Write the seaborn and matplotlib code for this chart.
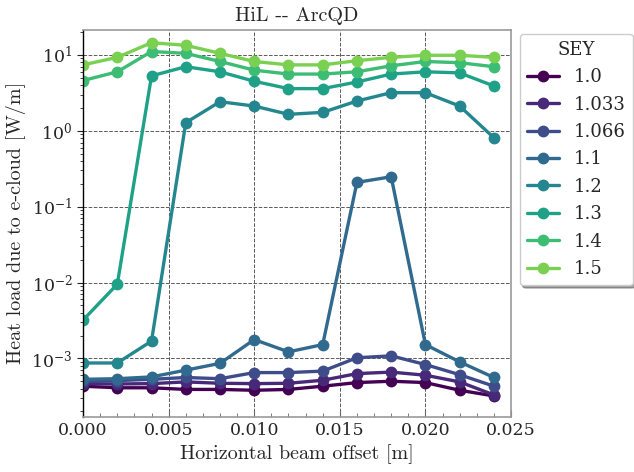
import numpy as np
import pandas as pd
import matplotlib
matplotlib.use("Agg")
import matplotlib.pyplot as plt
import seaborn as sns
from matplotlib.ticker import MultipleLocator

offsets = [0.000, 0.002, 0.004, 0.006, 0.008, 0.010, 0.012, 0.014, 0.016, 0.018, 0.020, 0.022, 0.024]
sey_labels = ["1.0", "1.033", "1.066", "1.1", "1.2", "1.3", "1.4", "1.5"]

hl_1_0 = [4.3e-4, 4.1e-4, 4.1e-4, 3.9e-4, 3.9e-4, 3.8e-4, 3.9e-4, 4.3e-4, 4.8e-4, 5.0e-4, 4.8e-4, 3.8e-4, 3.2e-4]
hl_1_033 = [4.65e-4, 4.6e-4, 4.65e-4, 4.9e-4, 4.7e-4, 4.65e-4, 4.7e-4, 5.15e-4, 6.3e-4, 6.6e-4, 6.0e-4, 4.9e-4, 3.3e-4]
hl_1_066 = [5.0e-4, 5.1e-4, 5.3e-4, 5.6e-4, 5.4e-4, 6.5e-4, 6.5e-4, 6.8e-4, 1.02e-3, 1.08e-3, 8.3e-4, 6.1e-4, 4.3e-4]
hl_1_1 = [5.3e-4, 5.4e-4, 5.7e-4, 7.0e-4, 8.6e-4, 1.77e-3, 1.22e-3, 1.52e-3, 0.209, 0.248, 1.52e-3, 9.0e-4, 5.6e-4]
hl_1_2 = [8.7e-4, 8.7e-4, 1.69e-3, 1.28, 2.42, 2.12, 1.65, 1.75, 2.47, 3.18, 3.18, 2.12, 0.81]
hl_1_3 = [3.2e-3, 9.5e-3, 5.3, 7.0, 6.0, 4.5, 3.6, 3.6, 4.4, 5.6, 6.0, 5.8, 3.9]
hl_1_4 = [4.6, 6.0, 11.1, 10.5, 8.2, 6.3, 5.6, 5.6, 6.0, 7.2, 8.2, 7.9, 7.0]
hl_1_5 = [7.4, 9.3, 14.5, 13.4, 10.5, 8.2, 7.4, 7.4, 8.4, 9.3, 9.9, 9.9, 9.3]

series = [hl_1_0, hl_1_033, hl_1_066, hl_1_1, hl_1_2, hl_1_3, hl_1_4, hl_1_5]

rows = []
for lab, vals in zip(sey_labels, series):
    for x, v in zip(offsets, vals):
        rows.append({"offset": x, "heat": v, "SEY": lab})
df = pd.DataFrame(rows)

sns.set_style("white")
plt.rcParams["font.family"] = ["DejaVu Serif"]
plt.rcParams["mathtext.fontset"] = "dejavuserif"

colors = [plt.cm.viridis(v) for v in np.linspace(0, 0.8, len(sey_labels))]
palette = dict(zip(sey_labels, colors))

fig = plt.figure(figsize=(6.34, 4.72), dpi=100)
ax = fig.add_axes([0.131, 0.117, 0.675, 0.820])

sns.lineplot(data=df, x="offset", y="heat", hue="SEY", hue_order=sey_labels,
             palette=palette, marker="o", markersize=8.5, linewidth=2.4,
             markeredgewidth=0, ax=ax)

ax.set_yscale("log")
ax.set_xlim(0, 0.025)
ax.set_ylim(1.7e-4, 21.5)
ax.xaxis.set_major_locator(MultipleLocator(0.005))
ax.xaxis.set_minor_locator(MultipleLocator(0.001))
ax.grid(True, which="major", linestyle="--", color="0.35", linewidth=0.7)

for s in ["top", "right", "bottom"]:
    ax.spines[s].set_color("0.6")
    ax.spines[s].set_linewidth(1.2)
ax.spines["left"].set_color("black")
ax.spines["left"].set_linewidth(1.0)

ax.tick_params(axis="x", which="both", direction="in", bottom=True, labelsize=12.5, color="0.4")
ax.tick_params(axis="x", which="major", length=5)
ax.tick_params(axis="x", which="minor", length=3)
ax.tick_params(axis="y", which="both", direction="out", left=True, labelsize=12.5)
ax.tick_params(axis="y", which="major", length=4)
ax.tick_params(axis="y", which="minor", length=2)

ax.set_title("HiL -- ArcQD", fontsize=14.5, family=["cmr10", "DejaVu Serif"])
ax.set_xlabel("Horizontal beam offset [m]", fontsize=14.5, family=["cmr10", "DejaVu Serif"])
ax.set_ylabel("Heat load due to e-cloud [W/m]", fontsize=14.5, family=["cmr10", "DejaVu Serif"])

leg = ax.legend(title="SEY", loc="upper left", bbox_to_anchor=(1.02, 0.99),
                borderaxespad=0, fontsize=13, title_fontsize=13, shadow=True,
                frameon=True, fancybox=True, handlelength=1.8, labelspacing=0.52)
leg.get_title().set_family(["DejaVu Serif"])

fig.savefig("out.png", dpi=100)
